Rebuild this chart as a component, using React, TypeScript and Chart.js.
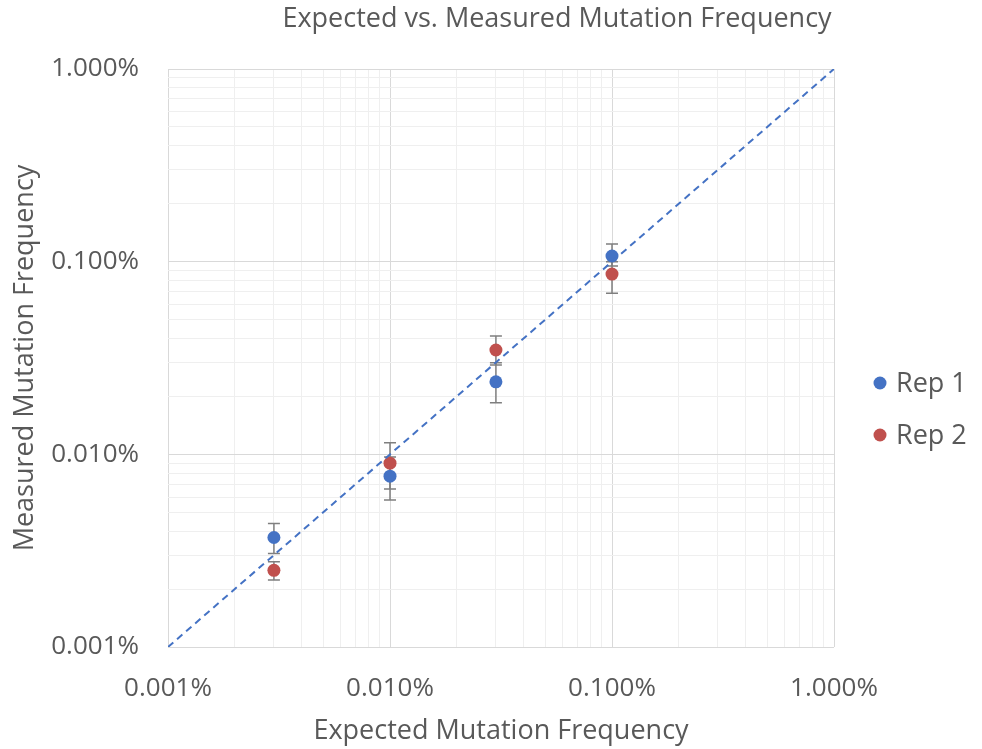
import React, { useEffect, useRef } from "react";
import { Chart, registerables } from "chart.js";

Chart.register(...registerables);

const expected = [0.003, 0.01, 0.03, 0.1];
const rep1 = [0.0037, 0.0077, 0.0238, 0.107];
const rep1Low = [0.00306, 0.0058, 0.0185, 0.095];
const rep1High = [0.00438, 0.0097, 0.0299, 0.1235];
const rep2 = [0.0025, 0.009, 0.0348, 0.0862];
const rep2Low = [0.00223, 0.0066, 0.0291, 0.0685];
const rep2High = [0.00277, 0.0115, 0.0411, 0.1];
const idealLine = [0.001, 1];
const majorTicks = [0.001, 0.01, 0.1, 1];
const seriesNames = ["Rep 1", "Rep 2"];
const seriesColors = ["#4472C4", "#C0504D"];
const titleText = "Expected vs. Measured Mutation Frequency";
const xTitle = "Expected Mutation Frequency";
const yTitle = "Measured Mutation Frequency";

const FONT = "'Open Sans', 'Noto Sans', sans-serif";
const TEXT = "#595959";

function allLogTicks() {
  const t: { value: number }[] = [];
  for (let i = 0; i < majorTicks.length; i++) {
    const base = majorTicks[i];
    if (i === majorTicks.length - 1) {
      t.push({ value: base });
    } else {
      for (let m = 1; m <= 9; m++) t.push({ value: +(base * m).toPrecision(6) });
    }
  }
  return t;
}
const isMajor = (v: number) => majorTicks.some((m) => Math.abs(v - m) / m < 1e-6);

const errorBarPlugin = {
  id: "errorBars",
  beforeDatasetsDraw(chart: any) {
    const { ctx } = chart;
    const xs = chart.scales.x;
    const ys = chart.scales.y;
    const sets = [
      [rep1Low, rep1High],
      [rep2Low, rep2High],
    ];
    ctx.save();
    ctx.strokeStyle = "#7f7f7f";
    ctx.lineWidth = 1.5;
    sets.forEach(([lo, hi]) => {
      expected.forEach((xv, i) => {
        const x = xs.getPixelForValue(xv);
        const y1 = ys.getPixelForValue(lo[i]);
        const y2 = ys.getPixelForValue(hi[i]);
        ctx.beginPath();
        ctx.moveTo(x, y1);
        ctx.lineTo(x, y2);
        ctx.moveTo(x - 6, y1);
        ctx.lineTo(x + 6, y1);
        ctx.moveTo(x - 6, y2);
        ctx.lineTo(x + 6, y2);
        ctx.stroke();
      });
    });
    ctx.restore();
  },
};

const decorPlugin = {
  id: "decor",
  afterDraw(chart: any) {
    const { ctx } = chart;
    ctx.save();
    ctx.fillStyle = TEXT;
    ctx.font = `27px ${FONT}`;
    ctx.textAlign = "center";
    ctx.textBaseline = "middle";
    ctx.fillText(titleText, 557, 19);
    // legend
    ctx.font = `27px ${FONT}`;
    ctx.textAlign = "left";
    seriesNames.forEach((name, i) => {
      const y = 383 + i * 52;
      ctx.beginPath();
      ctx.fillStyle = seriesColors[i];
      ctx.arc(880, y, 6.5, 0, Math.PI * 2);
      ctx.fill();
      ctx.fillStyle = TEXT;
      ctx.fillText(name, 896, y + 1);
    });
    ctx.restore();
  },
};

export default function App() {
  const ref = useRef<HTMLCanvasElement | null>(null);
  useEffect(() => {
    document.body.style.margin = "0";
    const canvas = ref.current!;
    const chart = new Chart(canvas, {
      type: "scatter",
      data: {
        datasets: [
          {
            label: "Ideal",
            data: idealLine.map((v) => ({ x: v, y: v })),
            showLine: true,
            borderColor: "#4472C4",
            borderWidth: 2,
            borderDash: [7, 5],
            pointRadius: 0,
            fill: false,
          },
          {
            label: seriesNames[0],
            data: expected.map((x, i) => ({ x, y: rep1[i] })),
            backgroundColor: seriesColors[0],
            borderColor: seriesColors[0],
            pointRadius: 6.5,
            borderWidth: 0,
          },
          {
            label: seriesNames[1],
            data: expected.map((x, i) => ({ x, y: rep2[i] })),
            backgroundColor: seriesColors[1],
            borderColor: seriesColors[1],
            pointRadius: 6.5,
            borderWidth: 0,
          },
        ],
      },
      options: {
        animation: false,
        responsive: false,
        layout: { padding: { top: 69, right: 148, left: 0, bottom: 0 } },
        plugins: { legend: { display: false }, tooltip: { enabled: false }, title: { display: false } },
        scales: {
          x: {
            type: "logarithmic",
            min: 0.001,
            max: 1,
            afterBuildTicks: (s: any) => {
              s.ticks = allLogTicks();
            },
            afterFit: (s: any) => {
              s.height = 102;
            },
            border: { display: false },
            grid: {
              drawTicks: false,
              color: (c: any) => (isMajor(c.tick.value) ? "#d9d9d9" : "#efefef"),
              lineWidth: 1,
            },
            ticks: {
              autoSkip: false,
              maxRotation: 0,
              padding: 26,
              color: TEXT,
              font: { family: FONT, size: 26 },
              callback: (v: any) => (isMajor(Number(v)) ? Number(v).toFixed(3) + "%" : ""),
            },
            title: {
              display: true,
              text: xTitle,
              color: TEXT,
              font: { family: FONT, size: 27 },
              padding: { top: 0, bottom: 1 },
            },
          },
          y: {
            type: "logarithmic",
            min: 0.001,
            max: 1,
            afterBuildTicks: (s: any) => {
              s.ticks = allLogTicks();
            },
            afterFit: (s: any) => {
              s.width = 168;
            },
            border: { display: false },
            grid: {
              drawTicks: false,
              color: (c: any) => (isMajor(c.tick.value) ? "#d9d9d9" : "#efefef"),
              lineWidth: 1,
            },
            ticks: {
              autoSkip: false,
              padding: 29,
              color: TEXT,
              font: { family: FONT, size: 26 },
              callback: (v: any) => (isMajor(Number(v)) ? Number(v).toFixed(3) + "%" : ""),
            },
            title: {
              display: true,
              text: yTitle,
              color: TEXT,
              font: { family: FONT, size: 27 },
              padding: { top: 9, bottom: 0 },
            },
          },
        },
      },
      plugins: [errorBarPlugin, decorPlugin],
    } as any);
    return () => chart.destroy();
  }, []);
  return (
    <div style={{ width: 982, height: 749 }}>
      <canvas ref={ref} width={982} height={749} style={{ display: "block" }} />
    </div>
  );
}
